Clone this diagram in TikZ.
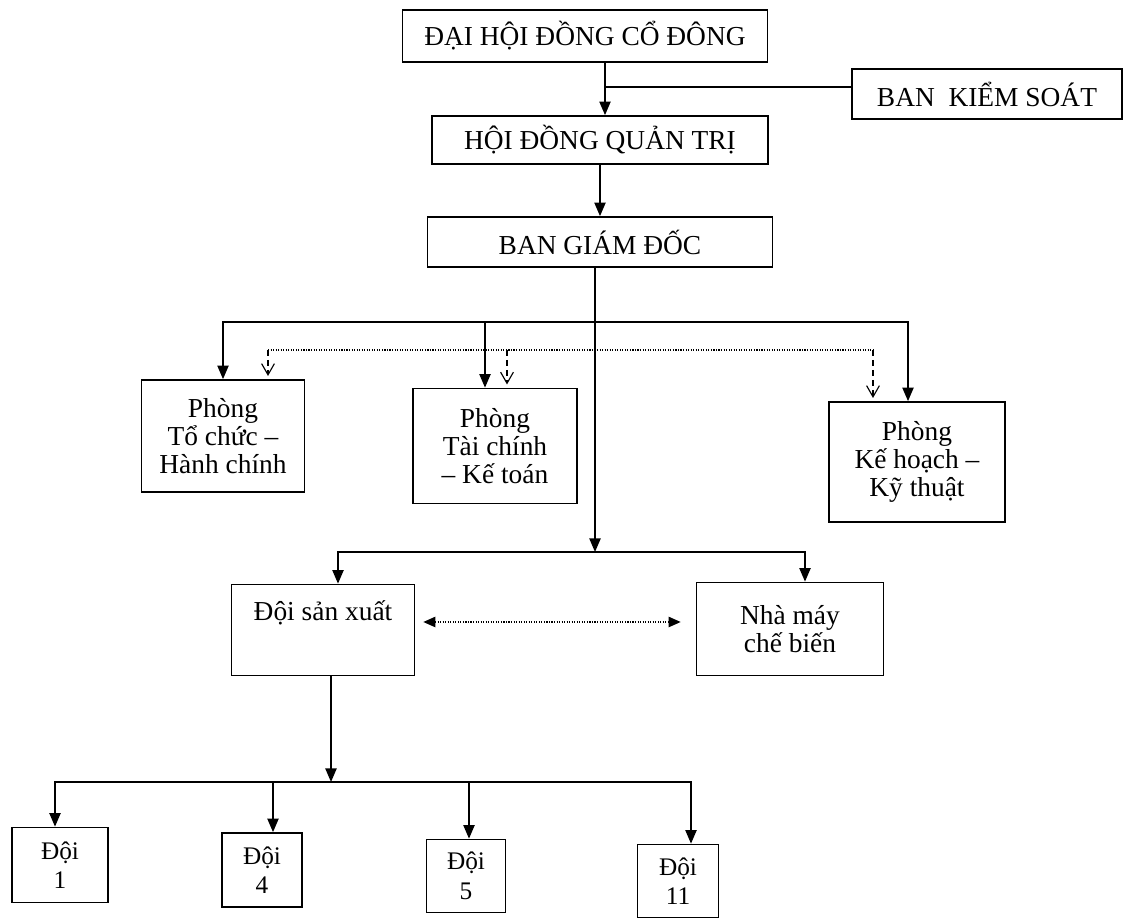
\documentclass[tikz,border=0pt]{standalone}
\usepackage{fontspec}
\setmainfont{Liberation Serif}
\usetikzlibrary{arrows.meta,calc}

\begin{document}
\begin{tikzpicture}[
    x=0.25mm, y=-0.25mm,
    box/.style={rectangle, draw=black, line width=1.2pt, align=center, inner sep=0pt,
                font=\fontsize{19.5}{20}\selectfont},
    teambox/.style={box, font=\fontsize{18}{21}\selectfont},
    arr/.style={-{Triangle[length=3.4mm,width=2.8mm]}, line width=1.2pt},
    link/.style={line width=1.2pt},
    dotline/.style={densely dotted, line width=0.8pt},
    dasharr/.style={-{Straight Barb[length=2.8mm,width=3.2mm]}, dash pattern=on 1.5mm off 1mm,
                    line width=0.8pt, shorten >=0.8mm},
    dblarr/.style={{Triangle[length=3mm,width=2.6mm]}-{Triangle[length=3mm,width=2.6mm]},
                   densely dotted, line width=0.8pt}
]
\useasboundingbox (0,0) rectangle (1126,920);

% ---- Top levels ----
\node[box, minimum width=91.25mm, minimum height=13mm] (dhdcd) at (585,36) {ĐẠI HỘI ĐỒNG CỔ ĐÔNG};
\node[box, minimum width=67.5mm, minimum height=12.5mm] (bks) at (987,94) {BAN~ KIỂM SOÁT};
\node[box, minimum width=84mm, minimum height=12mm] (hdqt) at (600,140) {HỘI ĐỒNG QUẢN TRỊ};
\node[box, minimum width=86.25mm, minimum height=12.5mm] (bgd) at (600,242) {BAN GIÁM ĐỐC};

\coordinate (jk) at (605,87);
\draw[arr] (dhdcd.south -| jk) -- (hdqt.north -| jk);
\draw[link] (jk) -- (jk -| bks.west);
\draw[arr] (hdqt.south) -- (bgd.north);

% ---- Departments ----
\node[box, minimum width=40.75mm, minimum height=28mm] (tchc) at (223,436) {Phòng\\Tổ chức –\\Hành chính};
\node[box, minimum width=41mm, minimum height=28.75mm] (tckt) at (495,446) {Phòng\\Tài chính\\– Kế toán};
\node[box, minimum width=44mm, minimum height=30mm] (khkt) at (917,462) {Phòng\\Kế hoạch –\\Kỹ thuật};

\coordinate (busD) at (595,322);
\coordinate (busP) at (595,552);
\draw[arr] (bgd.south -| busD) -- (busP);
\draw[arr] (busD) -| (tchc.north);
\draw[arr] (busD) -| ($(khkt.north)+(-9,0)$);
\coordinate (tcktin) at ($(tckt.north)+(-10,0)$);
\draw[arr] (tcktin |- busD) -- (tcktin);

% dotted links
\coordinate (dotD) at (595,350);
\coordinate (dA) at ($(tchc.north)+(45,0)$);
\coordinate (dB) at ($(tckt.north)+(12,0)$);
\coordinate (dC) at ($(khkt.north)+(-44,0)$);
\draw[dotline] (dA |- dotD) -- (dC |- dotD);
\draw[dasharr] (dA |- dotD) -- (dA);
\draw[dasharr] (dB |- dotD) -- (dB);
\draw[dasharr] (dC |- dotD) -- (dC);

% ---- Production ----
\node[box, minimum width=45.75mm, text height=9mm, text depth=13.75mm] (dsx) at (323,630) {Đội sản xuất};
\node[box, minimum width=46.75mm, minimum height=23.25mm] (nmcb) at (790,629) {Nhà máy\\chế biến};

\draw[arr] (busP) -| ($(dsx.north)+(15,0)$);
\draw[arr] (busP) -| ($(nmcb.north)+(15,0)$);
\coordinate (dl) at ([yshift=2mm]dsx.east);
\draw[dblarr, shorten <=2mm, shorten >=3.75mm] (dl) -- (dl -| nmcb.west);

% ---- Teams ----
\node[teambox, minimum width=24mm, minimum height=18.75mm] (d1) at (60,865) {Đội\\1};
\node[teambox, minimum width=20mm, minimum height=18.5mm] (d4) at (262,870) {Đội\\4};
\node[teambox, minimum width=19.75mm, minimum height=18.25mm] (d5) at (466,876) {Đội\\5};
\node[teambox, minimum width=20.25mm, minimum height=18.25mm] (d11) at (678,881) {Đội\\11};

\coordinate (busT) at (331,782);
\draw[arr] (dsx.south -| busT) -- (busT);
\foreach \n/\dx in {d1/-5, d4/11, d5/3, d11/13}
  \draw[arr] (busT) -| ($(\n.north)+(\dx,0)$);

\end{tikzpicture}
\end{document}
